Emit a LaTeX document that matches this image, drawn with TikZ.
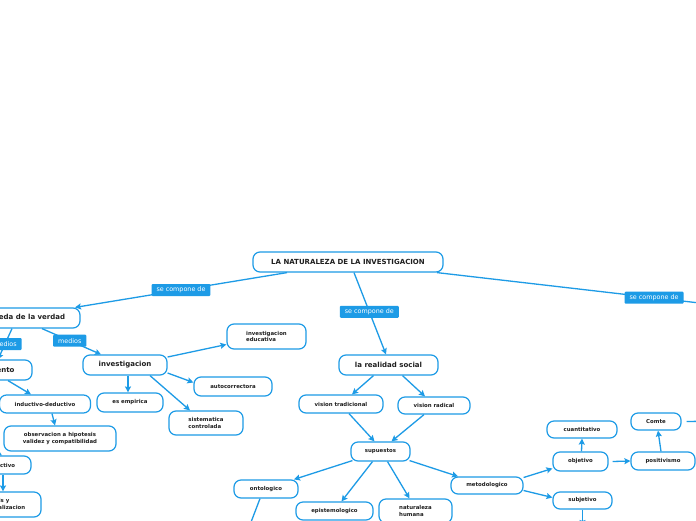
\documentclass[tikz,border=0pt]{standalone}
\usepackage{fontspec}
\setmainfont{DejaVu Sans}
\usetikzlibrary{arrows.meta}
\definecolor{mmblue}{HTML}{1D9BE6}
\definecolor{mmtext}{HTML}{1F1F1F}
\begin{document}
\begin{tikzpicture}[x=1pt,y=-1pt,
  box/.style={draw=mmblue, line width=1.2pt, rounded corners=7pt, fill=white, text=mmtext, inner sep=0pt, font=\bfseries\fontsize{5.4}{6.4}\selectfont, align=center},
  big/.style={box, font=\bfseries\fontsize{7}{8}\selectfont},
  two/.style={box, align=left},
  con/.style={draw=mmblue, line width=1.3pt, -{Stealth[length=6pt,width=6pt,inset=1pt]}},
  lbl/.style={fill=mmblue, text=white, font=\fontsize{6.4}{7}\selectfont, inner xsep=5pt, inner ysep=0pt, minimum height=12pt, rounded corners=1pt}
]
\useasboundingbox (0,0) rectangle (696,520);
\clip (0,0) rectangle (696,520);
\fill[white] (0,0) rectangle (696,520);

% nodes
\node[big, minimum width=190pt, minimum height=20pt] (root) at (348,262) {LA NATURALEZA DE LA INVESTIGACION};
\node[big, minimum width=120pt, minimum height=20pt] (busq) at (20,318) {busqueda de la verdad};
\node[big, minimum width=88pt, minimum height=20pt] (conoc) at (-12,370) {conocimiento};
\node[box, minimum width=91pt, minimum height=18pt] (indded) at (45,404) {inductivo-deductivo};
\node[box, minimum width=112pt, minimum height=25pt] (obs) at (60,438.5) {observacion a hipotesis\\validez y compatibilidad};
\node[box, minimum width=62pt, minimum height=18pt] (ded) at (0,465) {deductivo};
\node[two, minimum width=76pt, minimum height=25pt] (anal) at (3,504.5) {analisis y\\generalizacion};
\node[big, minimum width=84pt, minimum height=20pt] (inv) at (125,365) {investigacion};
\node[two, minimum width=79pt, minimum height=25pt] (educ) at (266.5,336.5) {investigacion\\educativa};
\node[box, minimum width=78pt, minimum height=19pt] (autoc) at (233,386.5) {autocorrectora};
\node[box, minimum width=66pt, minimum height=19pt] (emp) at (130,402.5) {es empirica};
\node[two, minimum width=74pt, minimum height=24pt] (sist) at (206,423) {sistematica\\controlada};
\node[big, minimum width=99pt, minimum height=20pt] (real) at (388.5,365) {la realidad social};
\node[box, minimum width=84pt, minimum height=18pt] (vtrad) at (341,404) {vision tradicional};
\node[box, minimum width=72pt, minimum height=17pt] (vrad) at (434,405.5) {vision radical};
\node[box, minimum width=59pt, minimum height=19pt] (sup) at (380.5,451.5) {supuestos};
\node[box, minimum width=64pt, minimum height=18pt] (onto) at (266,489) {ontologico};
\node[box, minimum width=77pt, minimum height=18pt] (epist) at (334.5,511) {epistemologico};
\node[two, minimum width=73pt, minimum height=24pt] (nat) at (415.5,511) {naturaleza\\humana};
\node[box, minimum width=72pt, minimum height=17pt] (metod) at (487,485.5) {metodologico};
\node[box, minimum width=55pt, minimum height=19pt] (obj) at (580.5,461.5) {objetivo};
\node[box, minimum width=70pt, minimum height=17pt] (cuant) at (582,429.5) {cuantitativo};
\node[box, minimum width=59pt, minimum height=17pt] (subj) at (582.5,500.5) {subjetivo};
\node[box, minimum width=64pt, minimum height=18pt] (posit) at (663,461) {positivismo};
\node[box, minimum width=50pt, minimum height=17pt] (comte) at (656,421.5) {Comte};

% free ends
\coordinate (rr) at (760,310);
\coordinate (cl) at (-25,440);
\coordinate (od) at (248,530);
\coordinate (sd) at (582.5,526);
\coordinate (cr) at (720,421);

% connectors
\draw[con] ([xshift=-61pt]root.south) -- node[lbl,pos=0.5]{se compone de} ([xshift=55pt]busq.north);
\draw[con] ([xshift=6pt]root.south) -- node[lbl,pos=0.48]{se compone de} ([xshift=-2.5pt]real.north);
\draw[con] ([xshift=89pt]root.south) -- node[lbl,pos=0.672]{se compone de} (rr);
\draw[con] ([xshift=22pt]busq.south) -- node[lbl,pos=0.47]{medios} ([xshift=-24pt]inv.north);
\draw[con] ([xshift=-8pt]busq.south) -- node[lbl,pos=0.5]{medios} ([xshift=10pt]conoc.north);
\draw[con] ([xshift=20pt]conoc.south) -- ([xshift=-14pt]indded.north);
\draw[con] ([xshift=7pt]indded.south) -- ([xshift=-5pt]obs.north);
\draw[con] (cl) -- ([xshift=2pt]ded.north);
\draw[con] ([xshift=3pt]ded.south) -- (anal.north);
\draw[con] ([yshift=8pt]inv.east) -- ([yshift=-8pt]educ.west);
\draw[con] ([yshift=-8pt]inv.east) -- ([yshift=4pt]autoc.west);
\draw[con] ([xshift=3pt]inv.south) -- ([xshift=-2pt]emp.north);
\draw[con] ([xshift=25pt]inv.south) -- ([xshift=-16pt]sist.north);
\draw[con] ([xshift=-15pt]real.south) -- ([xshift=11pt]vtrad.north);
\draw[con] ([xshift=14pt]real.south) -- ([xshift=-9pt]vrad.north);
\draw[con] ([xshift=8pt]vtrad.south) -- ([xshift=-6pt]sup.north);
\draw[con] ([xshift=-10pt]vrad.south) -- ([xshift=11pt]sup.north);
\draw[con] ([xshift=2pt,yshift=1pt]sup.south west) -- ([xshift=28pt]onto.north);
\draw[con] ([xshift=-8pt]sup.south) -- ([xshift=7pt]epist.north);
\draw[con] ([xshift=7pt]sup.south) -- ([xshift=-6pt]nat.north);
\draw[con] ([xshift=-1pt,yshift=1pt]sup.south east) -- ([xshift=-29pt]metod.north);
\draw[con] ([xshift=-6pt]onto.south) -- (od);
\draw[con] ([yshift=8pt]metod.east) -- ([yshift=-7pt]obj.west);
\draw[con] ([yshift=-5pt]metod.east) -- ([yshift=3pt]subj.west);
\draw[con] (subj.south) -- (sd);
\draw[con] ([xshift=1pt]obj.north) -- (cuant.south);
\draw[con] ([xshift=4pt]obj.east) -- (posit.west);
\draw[con] ([xshift=-2pt]posit.north) -- ([xshift=2pt]comte.south);
\draw[con] ([xshift=5pt]comte.east) -- (cr);
\end{tikzpicture}
\end{document}
